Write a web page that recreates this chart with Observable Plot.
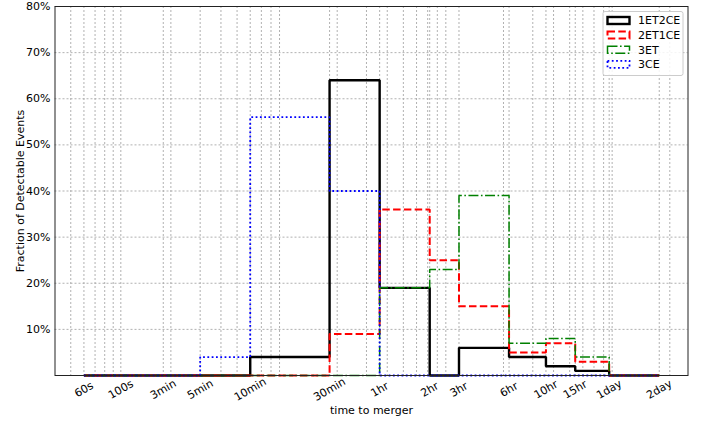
<!DOCTYPE html>
<html>
<head>
<meta charset="utf-8">
<script src="https://cdn.jsdelivr.net/npm/d3@7"></script>
<script src="https://cdn.jsdelivr.net/npm/@observablehq/plot@0.6"></script>
<style>
  html, body { margin: 0; padding: 0; background: #fff; }
</style>
</head>
<body>
<div id="chart"></div>
<script>
// Bin edges (seconds) and tick labels
const binEdges = [60, 100, 180, 300, 600, 1800, 3600, 7200, 10800, 21600, 36000, 54000, 86400, 172800];
const tickLabels = ["60s", "100s", "3min", "5min", "10min", "30min", "1hr", "2hr", "3hr", "6hr", "10hr", "15hr", "1day", "2day"];

// Fraction of detectable events (%) per bin
const series1ET2CE = [0, 0, 0, 0, 4, 64, 19, 0, 6, 4, 2, 1, 0];
const series2ET1CE = [0, 0, 0, 0, 0, 9, 36, 25, 15, 5, 7, 3, 0];
const series3ET    = [0, 0, 0, 0, 0, 0, 19, 23, 39, 7, 8, 4, 0];
const series3CE    = [0, 0, 0, 4, 56, 40, 0, 0, 0, 0, 0, 0, 0];

const yTicks = [10, 20, 30, 40, 50, 60, 70, 80];
const minorGrid = [50, 70, 80, 90, 200, 400, 500, 700, 800, 900, 2000, 3000, 4000, 5000, 6000, 7000, 8000, 9000,
  20000, 30000, 40000, 50000, 60000, 70000, 80000, 90000, 200000];

const seriesDefs = [
  {name: "1ET2CE", values: series1ET2CE, stroke: "#000000", width: 2.4, dash: null},
  {name: "2ET1CE", values: series2ET1CE, stroke: "#ff0000", width: 2, dash: "7.5,3.3"},
  {name: "3ET",    values: series3ET,    stroke: "#008000", width: 1.5, dash: "10,2.5,1.6,2.5"},
  {name: "3CE",    values: series3CE,    stroke: "#0000ff", width: 1.8, dash: "1.8,2.5"}
];

function stepPoints(values) {
  const pts = [{x: binEdges[0], y: 0}];
  values.forEach((v, i) => {
    pts.push({x: binEdges[i], y: v});
    pts.push({x: binEdges[i + 1], y: v});
  });
  pts.push({x: binEdges[binEdges.length - 1], y: 0});
  return pts;
}

const gridColor = "#a8a8a8";

const plot = Plot.plot({
  width: 706,
  height: 427,
  marginLeft: 54.5,
  marginRight: 18.5,
  marginTop: 6,
  marginBottom: 52,
  style: {fontFamily: "DejaVu Sans, sans-serif", fontSize: "11px", background: "#fff", color: "#000"},
  x: {type: "log", domain: [40.2, 257300], axis: null},
  y: {domain: [0, 80], axis: null},
  marks: [
    Plot.ruleX(minorGrid.concat(binEdges), {stroke: gridColor, strokeWidth: 0.9, strokeDasharray: "2,2"}),
    Plot.ruleY(yTicks, {stroke: gridColor, strokeWidth: 0.9, strokeDasharray: "2,2"}),
    ...seriesDefs.map(s => Plot.line(stepPoints(s.values), {
      x: "x", y: "y", stroke: s.stroke, strokeWidth: s.width,
      strokeDasharray: s.dash, strokeLinejoin: "miter", strokeLinecap: "butt"
    })),
    Plot.frame({stroke: "#222", strokeWidth: 1}),
    Plot.axisY({ticks: yTicks, tickSize: 0, tickPadding: 4.5, tickFormat: d => d + "%", label: null, fontSize: 11}),
    Plot.text(binEdges, {
      x: d => d, frameAnchor: "bottom", dy: 14, rotate: -30,
      text: (d, i) => tickLabels[i], textAnchor: "middle", lineAnchor: "middle", fontSize: 11, fill: "#000"
    }),
    Plot.text(["time to merger"], {frameAnchor: "bottom", dy: 35, lineAnchor: "middle", fontSize: 11, fill: "#000"}),
    Plot.text(["Fraction of Detectable Events"], {frameAnchor: "left", dx: -35, rotate: -90, lineAnchor: "middle", textAnchor: "middle", fontSize: 11, fill: "#000"})
  ]
});

document.getElementById("chart").appendChild(plot);

// Legend (inside plot, upper right)
const svg = d3.select(plot);
const lg = svg.append("g")
  .attr("font-family", "DejaVu Sans, sans-serif")
  .attr("font-size", 11)
  .attr("text-anchor", "start");
lg.append("rect").attr("x", 603).attr("y", 11.5).attr("width", 80).attr("height", 64)
  .attr("rx", 2).attr("fill", "#fff").attr("fill-opacity", 0.85).attr("stroke", "#cccccc").attr("stroke-width", 1);
seriesDefs.forEach((s, i) => {
  const cy = 20.5 + i * 14.6;
  lg.append("rect").attr("x", 607.5).attr("y", cy - 3.5).attr("width", 22).attr("height", 7)
    .attr("fill", "none").attr("stroke", s.stroke).attr("stroke-width", s.width)
    .attr("stroke-dasharray", s.dash);
  lg.append("text").attr("x", 638).attr("y", cy).attr("dy", "0.35em")
    .attr("text-anchor", "start").attr("fill", "#000").text(s.name);
});
</script>
</body>
</html>
